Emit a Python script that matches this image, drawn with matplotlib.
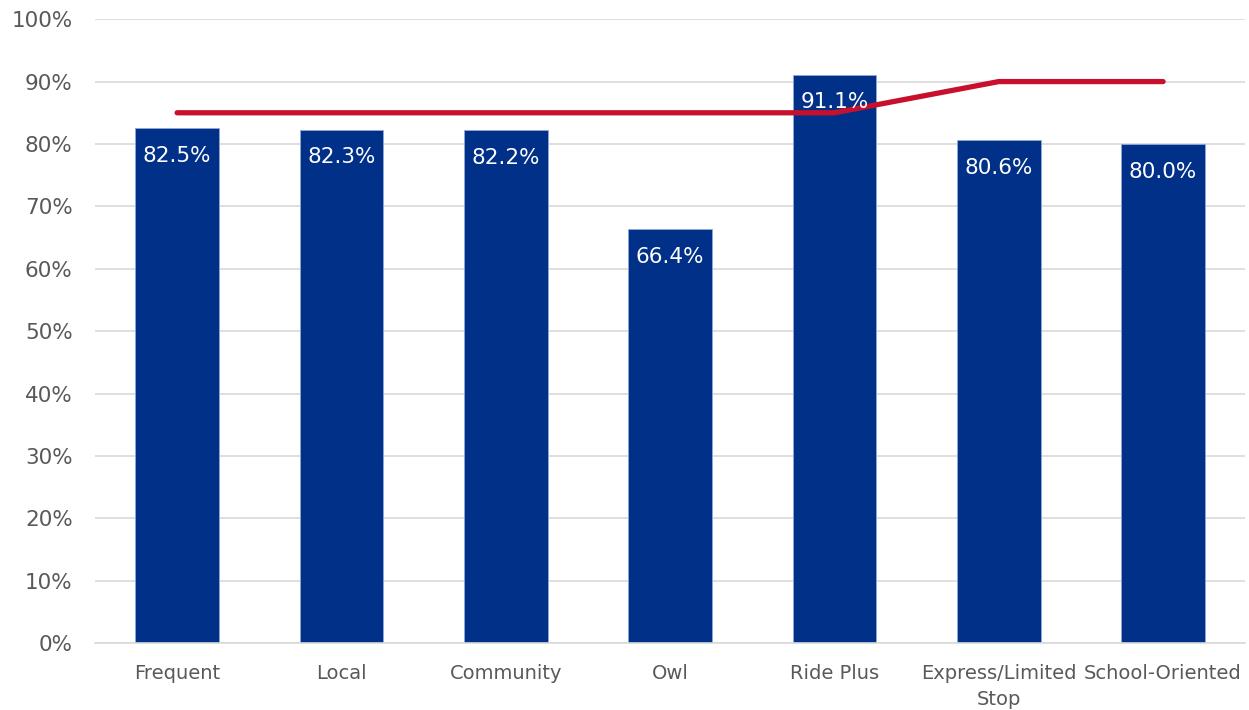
import matplotlib
matplotlib.use("Agg")
import matplotlib.pyplot as plt
import numpy as np

categories = ["Frequent", "Local", "Community", "Owl", "Ride Plus",
              "Express/Limited\nStop", "School-Oriented"]
actual = [82.5, 82.3, 82.2, 66.4, 91.1, 80.6, 80.0]
target = [85, 85, 85, 85, 85, 90, 90]
yticks = list(range(0, 101, 10))

BAR = "#003087"
RED = "#C8102E"
TXT = "#595959"
GRID = "#D9D9D9"

plt.rcParams["font.family"] = ["DejaVu Sans"]

fig = plt.figure(figsize=(12.49, 7.10), dpi=100)
ax = fig.add_axes([0.076, 0.094, 0.921, 0.879])

x = np.arange(len(categories))
ax.bar(x, actual, width=0.51, color=BAR, edgecolor="#8FA8D8",
       linewidth=0.6, zorder=2)
ax.plot(x, target, color=RED, linewidth=3.8, solid_capstyle="round",
        solid_joinstyle="round", zorder=3)

for xi, v in zip(x, actual):
    ax.annotate(f"{v:.1f}%", xy=(xi, v), xytext=(0, -20),
                textcoords="offset points", ha="center", va="center",
                color="white", fontsize=15.5, zorder=4)

ax.set_xlim(-0.5, len(categories) - 0.5)
ax.set_ylim(0, 100)
ax.set_yticks(yticks)
ax.set_yticklabels([f"{t}%" for t in yticks])
ax.set_xticks(x)
ax.set_xticklabels(categories)
ax.yaxis.grid(True, color=GRID, linewidth=1.2, zorder=0)
ax.set_axisbelow(True)
for s in ["top", "right", "left"]:
    ax.spines[s].set_visible(False)
ax.spines["bottom"].set_color(GRID)
ax.spines["bottom"].set_linewidth(1.2)
ax.tick_params(axis="y", length=0, pad=16, labelsize=15.5, labelcolor=TXT)
ax.tick_params(axis="x", length=0, pad=15, labelsize=14, labelcolor=TXT)
for lbl in ax.get_xticklabels():
    lbl.set_linespacing(1.45)

fig.savefig("out.png", dpi=100, facecolor="white")
